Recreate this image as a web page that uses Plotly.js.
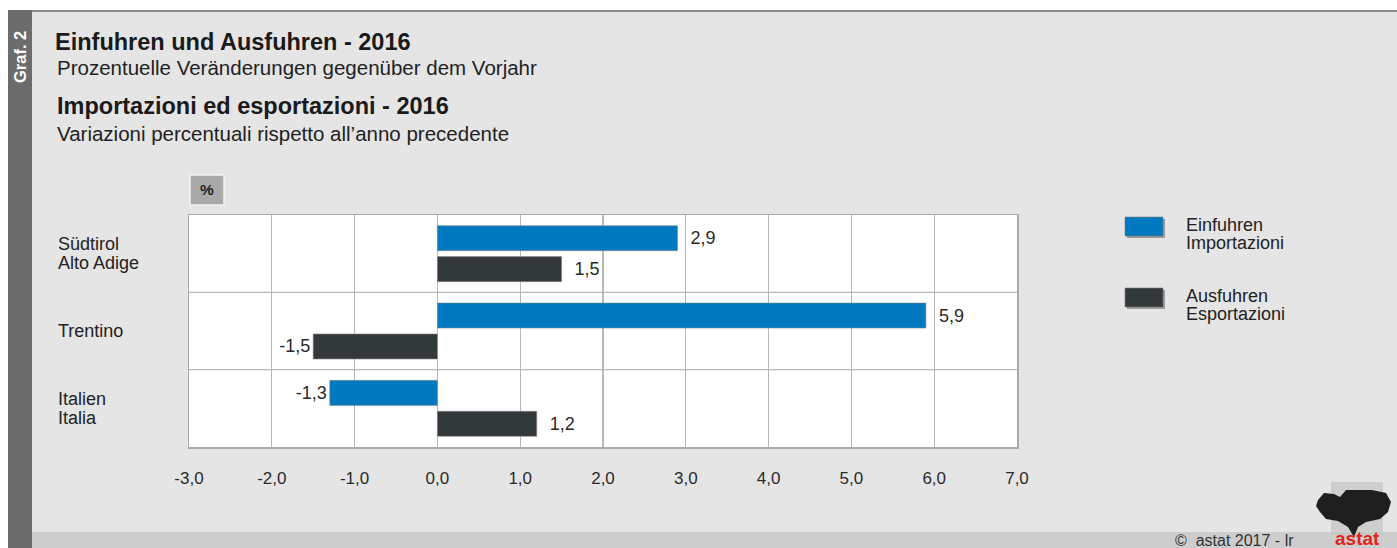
<!DOCTYPE html>
<html>
<head>
<meta charset="utf-8">
<script src="https://cdn.plot.ly/plotly-3.0.1.min.js"></script>
<style>
html,body{margin:0;padding:0;background:#fff;}
#chart{width:1397px;height:548px;}
</style>
</head>
<body>
<div id="chart"></div>
<script>
// ---- data ----
const categories = ['Südtirol / Alto Adige', 'Trentino', 'Italien / Italia'];
const categoryLabels = ['Südtirol<br>Alto Adige', 'Trentino', 'Italien<br>Italia'];
const seriesNames = ['Einfuhren<br>Importazioni', 'Ausfuhren<br>Esportazioni'];
const importsValues = [2.9, 5.9, -1.3];
const exportsValues = [1.5, -1.5, 1.2];
const xTickVals = [-3, -2, -1, 0, 1, 2, 3, 4, 5, 6, 7];
const seriesColors = ['#0079c1', '#33393b'];

// ---- helpers (pixel -> paper) ----
const W = 1397, H = 548;
const L = 189, R = 1017, T = 215, B = 447;
const X = px => (px - L) / (R - L);
const Y = py => (B - py) / (B - T);
const fmt = v => v.toFixed(1).replace('.', ',');
const labelText = vals => vals.map(v => v >= 0 ? '\u00a0\u00a0' + fmt(v) : fmt(v));

const font = 'Liberation Sans, Arial, Helvetica, sans-serif';

const traces = [importsValues, exportsValues].map((vals, i) => ({
  type: 'bar',
  orientation: 'h',
  name: seriesNames[i].replace('<br>', ' / '),
  y: categories,
  x: vals,
  marker: {color: seriesColors[i], line: {color: '#8a8a8a', width: 0.6}},
  text: labelText(vals),
  textposition: 'outside',
  textfont: {family: font, size: 18, color: '#2a2a2a'},
  cliponaxis: false,
  constraintext: 'none',
  hoverinfo: 'x+y',
  showlegend: false
}));

const shapes = [
  // white outer margin top and left
  {type: 'rect', xref: 'paper', yref: 'paper', x0: X(0), x1: X(W), y0: Y(10), y1: Y(0), fillcolor: '#ffffff', line: {width: 0}},
  {type: 'rect', xref: 'paper', yref: 'paper', x0: X(0), x1: X(8), y0: Y(H), y1: Y(0), fillcolor: '#ffffff', line: {width: 0}},
  // top border line
  {type: 'rect', xref: 'paper', yref: 'paper', x0: X(8), x1: X(W), y0: Y(12), y1: Y(10), fillcolor: '#8c8c8c', line: {width: 0}},
  // bottom band
  {type: 'rect', xref: 'paper', yref: 'paper', x0: X(32), x1: X(W), y0: Y(H), y1: Y(532), fillcolor: '#cdcdcd', line: {width: 0}},
  // left dark band
  {type: 'rect', xref: 'paper', yref: 'paper', x0: X(8), x1: X(32), y0: Y(H), y1: Y(10), fillcolor: '#6c6c6c', line: {width: 0}},
  // % box
  {type: 'rect', xref: 'paper', yref: 'paper', x0: X(190), x1: X(224), y0: Y(205), y1: Y(175), fillcolor: '#a9a9a9', line: {color: '#f4f4f4', width: 1.5}},
  // category separators
  {type: 'line', xref: 'paper', yref: 'y', x0: 0, x1: 1, y0: 0.5, y1: 0.5, line: {color: '#b8b8b8', width: 1.2}},
  {type: 'line', xref: 'paper', yref: 'y', x0: 0, x1: 1, y0: 1.5, y1: 1.5, line: {color: '#b8b8b8', width: 1.2}},
];

// legend swatches (with shadow)
const legendY = [[217, 236], [288, 307]];
legendY.forEach((yy, i) => {
  shapes.push({type: 'rect', xref: 'paper', yref: 'paper', x0: X(1127), x1: X(1165), y0: Y(yy[1] + 2), y1: Y(yy[0] + 2), fillcolor: '#9a9a9a', line: {width: 0}});
  shapes.push({type: 'rect', xref: 'paper', yref: 'paper', x0: X(1125), x1: X(1163), y0: Y(yy[1]), y1: Y(yy[0]), fillcolor: seriesColors[i], line: {color: '#7a7a7a', width: 0.6}});
});

// logo: dotted halo + dark blob
shapes.push({type: 'rect', xref: 'paper', yref: 'paper', x0: X(1331), x1: X(1383), y0: Y(535), y1: Y(482), fillcolor: '#c4c4c4', opacity: 0.7, line: {width: 0}});
const lp = [[1318,500],[1324,493],[1334,494],[1340,497],[1346,490],[1372,490],[1386,493],[1391,502],[1388,512],[1380,519],[1366,522],[1358,527],[1354,537],[1348,527],[1338,521],[1326,519],[1320,512],[1316,506]];
shapes.push({type: 'path', xref: 'paper', yref: 'paper',
  path: 'M ' + lp.map(p => X(p[0]) + ',' + Y(p[1])).join(' L ') + ' Z',
  fillcolor: '#1e1e1e', line: {width: 0}});

const annotations = [
  {text: '<b>Graf. 2</b>', xref: 'paper', yref: 'paper', x: X(20), y: Y(57), textangle: -90, showarrow: false, font: {family: font, size: 16.5, color: '#ffffff'}, xanchor: 'center', yanchor: 'middle'},
  {text: 'Prozentuelle Veränderungen gegenüber dem Vorjahr', xref: 'paper', yref: 'paper', x: X(55), y: Y(67), xanchor: 'left', yanchor: 'middle', showarrow: false, font: {family: font, size: 20.5, color: '#222'}},
  {text: '<b>Importazioni ed esportazioni - 2016</b>', xref: 'paper', yref: 'paper', x: X(55), y: Y(106), xanchor: 'left', yanchor: 'middle', showarrow: false, font: {family: font, size: 23.5, color: '#1a1a1a'}},
  {text: 'Variazioni percentuali rispetto all\u2019anno precedente', xref: 'paper', yref: 'paper', x: X(55), y: Y(133), xanchor: 'left', yanchor: 'middle', showarrow: false, font: {family: font, size: 20.5, color: '#222'}},
  {text: '<b>%</b>', xref: 'paper', yref: 'paper', x: X(207), y: Y(190), xanchor: 'center', yanchor: 'middle', showarrow: false, font: {family: font, size: 15.5, color: '#222'}},
  {text: '\u00a9\u00a0\u00a0astat 2017 - lr', xref: 'paper', yref: 'paper', x: X(1173), y: Y(540), xanchor: 'left', yanchor: 'middle', showarrow: false, font: {family: font, size: 16, color: '#333'}},
  {text: '<b>astat</b>', xref: 'paper', yref: 'paper', x: X(1357), y: Y(538), xanchor: 'center', yanchor: 'middle', showarrow: false, font: {family: font, size: 19, color: '#e2231a'}},
];

// category labels, one annotation per line for tight line spacing
const lineGap = 19.5;
categories.forEach((c, i) => {
  const lines = categoryLabels[i].split('<br>');
  lines.forEach((ln, j) => {
    annotations.push({text: ln, xref: 'paper', yref: 'y', x: X(56), y: c, xanchor: 'left', yanchor: 'middle', align: 'left', showarrow: false,
      yshift: ((lines.length - 1) / 2 - j) * lineGap, font: {family: font, size: 18, color: '#222'}});
  });
});

// legend texts
seriesNames.forEach((n, i) => {
  const lines = n.split('<br>');
  const cy = (legendY[i][0] + legendY[i][1]) / 2 + 7.5;
  lines.forEach((ln, j) => {
    annotations.push({text: ln, xref: 'paper', yref: 'paper', x: X(1184), y: Y(cy + (j - (lines.length - 1) / 2) * 18.5), xanchor: 'left', yanchor: 'middle', align: 'left', showarrow: false,
      font: {family: font, size: 18, color: '#222'}});
  });
});

const layout = {
  width: W, height: H,
  margin: {l: L, r: W - R, t: T, b: H - B, pad: 0},
  paper_bgcolor: '#e5e5e5',
  plot_bgcolor: '#ffffff',
  separators: ',.',
  barmode: 'group',
  bargap: 0.2,
  bargroupgap: 0.19,
  font: {family: font, color: '#222'},
  title: {
    text: '<b>Einfuhren und Ausfuhren - 2016</b>',
    xref: 'container', yref: 'container',
    x: 55 / W, xanchor: 'left',
    y: 1 - 42 / H, yanchor: 'middle',
    font: {family: font, size: 23.5, color: '#1a1a1a'}
  },
  xaxis: {
    range: [-3, 7],
    tickvals: xTickVals,
    ticktext: xTickVals.map(fmt),
    showgrid: true, gridcolor: '#b8b8b8', gridwidth: 1.2,
    zeroline: true, zerolinecolor: '#b8b8b8', zerolinewidth: 1.2,
    showline: true, mirror: true, linecolor: '#ababab', linewidth: 1.5,
    ticks: '', ticklabelstandoff: 15,
    tickfont: {family: font, size: 17, color: '#2a2a2a'},
    fixedrange: true
  },
  yaxis: {
    type: 'category',
    categoryorder: 'array', categoryarray: categories,
    autorange: 'reversed',
    showgrid: false, zeroline: false,
    showticklabels: false, ticks: '',
    showline: true, mirror: true, linecolor: '#ababab', linewidth: 1.5,
    fixedrange: true
  },
  shapes: shapes,
  annotations: annotations
};

Plotly.newPlot('chart', traces, layout, {displayModeBar: false, staticPlot: true});
</script>
</body>
</html>
